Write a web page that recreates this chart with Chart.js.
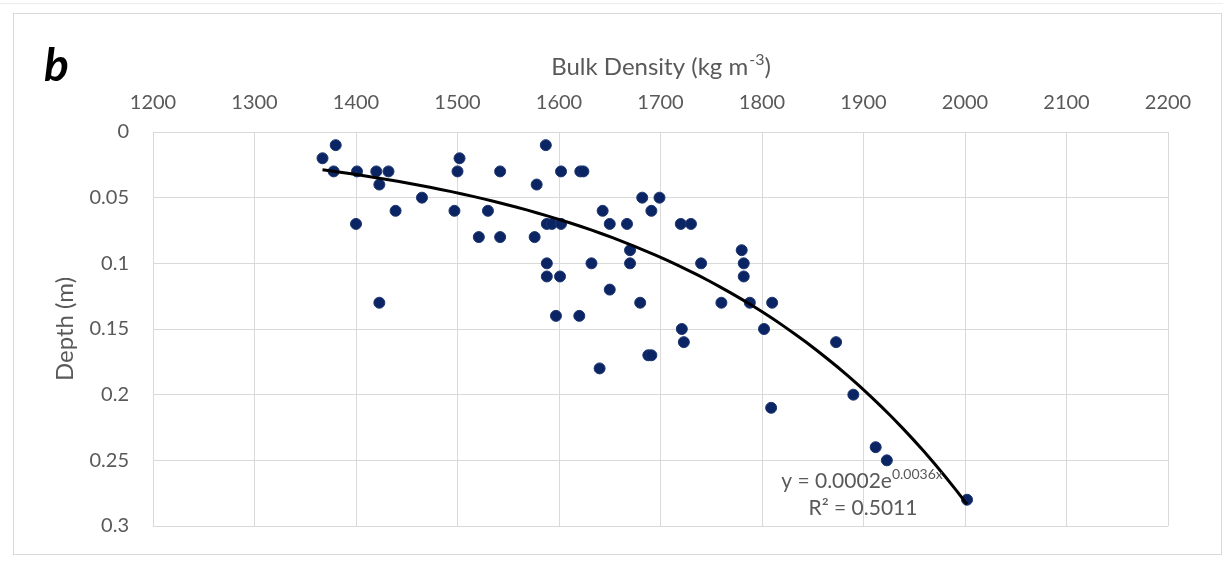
<!DOCTYPE html>
<html>
<head>
<meta charset="utf-8">
<script src="https://cdn.jsdelivr.net/npm/chart.js@4"></script>
<style>
  html, body { margin: 0; padding: 0; background: #fff; }
  #wrap { width: 1223px; height: 562px; position: relative; }
</style>
</head>
<body>
<div id="wrap"><canvas id="densityChart" width="1223" height="562"></canvas></div>
<script>
// bulk density (kg m-3) and depth (m)
const bulkDensity = [
    1367, 1380, 1378, 1401, 1420, 1432, 1423, 1465, 1439, 1400, 1423,
    1502, 1500, 1497, 1530, 1542, 1521, 1542, 1576, 1578, 1587, 1588,
    1593, 1602, 1602, 1621, 1624, 1588, 1588, 1601, 1597, 1620, 1632,
    1643, 1650, 1650, 1682, 1699, 1691, 1667, 1720, 1730, 1670, 1780,
    1670, 1740, 1782, 1782, 1680, 1760, 1788, 1810, 1721, 1723, 1802,
    1873, 1688, 1691, 1640, 1890, 1809, 1912, 1923, 2002
];
const depth = [
    0.02, 0.01, 0.03, 0.03, 0.03, 0.03, 0.04, 0.05, 0.06, 0.07, 0.13,
    0.02, 0.03, 0.06, 0.06, 0.03, 0.08, 0.08, 0.08, 0.04, 0.01, 0.07,
    0.07, 0.07, 0.03, 0.03, 0.03, 0.10, 0.11, 0.11, 0.14, 0.14, 0.10,
    0.06, 0.07, 0.12, 0.05, 0.05, 0.06, 0.07, 0.07, 0.07, 0.09, 0.09,
    0.10, 0.10, 0.10, 0.11, 0.13, 0.13, 0.13, 0.13, 0.15, 0.16, 0.15,
    0.16, 0.17, 0.17, 0.18, 0.20, 0.21, 0.24, 0.25, 0.28
];
const xTicks = [1200, 1300, 1400, 1500, 1600, 1700, 1800, 1900, 2000, 2100, 2200];
const yTicks = [0, 0.05, 0.1, 0.15, 0.2, 0.25, 0.3];
const equationText = 'y = 0.0002e';
const equationPower = '0.0036x';
const r2Text = 'R\u00B2 = 0.5011';

const FONT = 'Lato, "Open Sans", sans-serif';
const GREY = '#595959';

// exponential trendline, least squares on ln(depth) like Excel does
function expFit(xs, ys) {
    const n = xs.length;
    let sx = 0, sy = 0, sxx = 0, sxy = 0;
    for (let i = 0; i < n; i++) {
        const ly = Math.log(ys[i]);
        sx += xs[i]; sy += ly; sxx += xs[i] * xs[i]; sxy += xs[i] * ly;
    }
    const b = (n * sxy - sx * sy) / (n * sxx - sx * sx);
    const a = Math.exp((sy - b * sx) / n);
    return { a, b };
}
const fit = expFit(bulkDensity, depth);
const xMin = Math.min(...bulkDensity), xMax = Math.max(...bulkDensity);
const trend = [];
for (let i = 0; i <= 60; i++) {
    const x = xMin + (xMax - xMin) * i / 60;
    trend.push({ x: x, y: fit.a * Math.exp(fit.b * x) });
}

const points = bulkDensity.map((x, i) => ({ x: x, y: depth[i] }));

const decorations = {
    id: 'decorations',
    beforeDraw(chart) {
        const ctx = chart.ctx;
        ctx.save();
        ctx.fillStyle = '#fff';
        ctx.fillRect(0, 0, chart.width, chart.height);
        ctx.strokeStyle = '#ececec';
        ctx.lineWidth = 1;
        ctx.beginPath(); ctx.moveTo(0, 3.5); ctx.lineTo(chart.width, 3.5); ctx.stroke();
        ctx.strokeStyle = '#d9d9d9';
        ctx.strokeRect(13.5, 13.5, 1208, 541);
        ctx.restore();
    },
    afterDraw(chart) {
        const ctx = chart.ctx;
        const area = chart.chartArea;
        ctx.save();
        // panel letter
        ctx.fillStyle = '#000';
        ctx.font = 'italic bold 46px ' + FONT;
        ctx.textBaseline = 'alphabetic';
        ctx.textAlign = 'left';
        ctx.fillText('b', 44, 81);

        // x axis title with superscript
        ctx.fillStyle = GREY;
        const t1 = 'Bulk Density (kg m', sup = '-3', t2 = ')';
        ctx.font = '16px ' + FONT;
        const wSup = ctx.measureText(sup).width;
        ctx.font = '24px ' + FONT;
        const w1 = ctx.measureText(t1).width, w2 = ctx.measureText(t2).width;
        let x0 = (area.left + area.right) / 2 - (w1 + wSup + w2) / 2;
        const base = 75;
        ctx.fillText(t1, x0, base);
        ctx.font = '16px ' + FONT;
        ctx.fillText(sup, x0 + w1 + 1, base - 10);
        ctx.font = '24px ' + FONT;
        ctx.fillText(t2, x0 + w1 + wSup + 1, base);

        // y axis title
        ctx.save();
        ctx.translate(73, (area.top + area.bottom) / 2);
        ctx.rotate(-Math.PI / 2);
        ctx.textAlign = 'center';
        ctx.font = '24px ' + FONT;
        ctx.fillText('Depth (m)', 0, 0);
        ctx.restore();

        // trendline label
        ctx.font = '21px ' + FONT;
        ctx.textAlign = 'left';
        const we = ctx.measureText(equationText).width;
        ctx.font = '14px ' + FONT;
        const wp = ctx.measureText(equationPower).width;
        const ex = 862 - (we + wp) / 2;
        ctx.font = '21px ' + FONT;
        ctx.fillText(equationText, ex, 488);
        ctx.font = '14px ' + FONT;
        ctx.fillText(equationPower, ex + we, 479);
        ctx.font = '21px ' + FONT;
        ctx.textAlign = 'center';
        ctx.fillText(r2Text, 863, 515);
        ctx.restore();
    }
};

new Chart(document.getElementById('densityChart'), {
    type: 'scatter',
    data: {
        datasets: [
            {
                label: 'Depth',
                data: points,
                backgroundColor: '#0b2463',
                borderColor: '#1d3670',
                borderWidth: 1,
                pointRadius: 5.5,
                pointHoverRadius: 5.5,
                order: 2
            },
            {
                label: 'Trend',
                type: 'line',
                data: trend,
                borderColor: '#000',
                borderWidth: 3,
                pointRadius: 0,
                fill: false,
                tension: 0,
                order: 1
            }
        ]
    },
    options: {
        responsive: false,
        animation: false,
        devicePixelRatio: 1,
        layout: { padding: { left: 0, top: 0, right: 1223 - 1168, bottom: 562 - 526 } },
        plugins: {
            legend: { display: false },
            tooltip: { enabled: false }
        },
        scales: {
            x: {
                type: 'linear',
                position: 'top',
                min: xTicks[0],
                max: xTicks[xTicks.length - 1],
                afterBuildTicks: s => { s.ticks = xTicks.map(v => ({ value: v })); },
                afterFit: s => { s.height = 132; },
                ticks: {
                    color: GREY,
                    font: { family: FONT, size: 20 },
                    padding: 17,
                    maxRotation: 0,
                    callback: v => String(v)
                },
                grid: { color: '#d9d9d9', lineWidth: 1, drawTicks: false },
                border: { color: '#d9d9d9' }
            },
            y: {
                type: 'linear',
                reverse: true,
                min: 0,
                max: 0.3,
                afterBuildTicks: s => { s.ticks = yTicks.map(v => ({ value: v })); },
                afterFit: s => { s.width = 153; },
                ticks: {
                    color: GREY,
                    font: { family: FONT, size: 20 },
                    padding: 24,
                    callback: v => String(Math.round(v * 100) / 100)
                },
                grid: { color: '#d9d9d9', lineWidth: 1, drawTicks: false },
                border: { color: '#d9d9d9' }
            }
        }
    },
    plugins: [decorations]
});
</script>
</body>
</html>
